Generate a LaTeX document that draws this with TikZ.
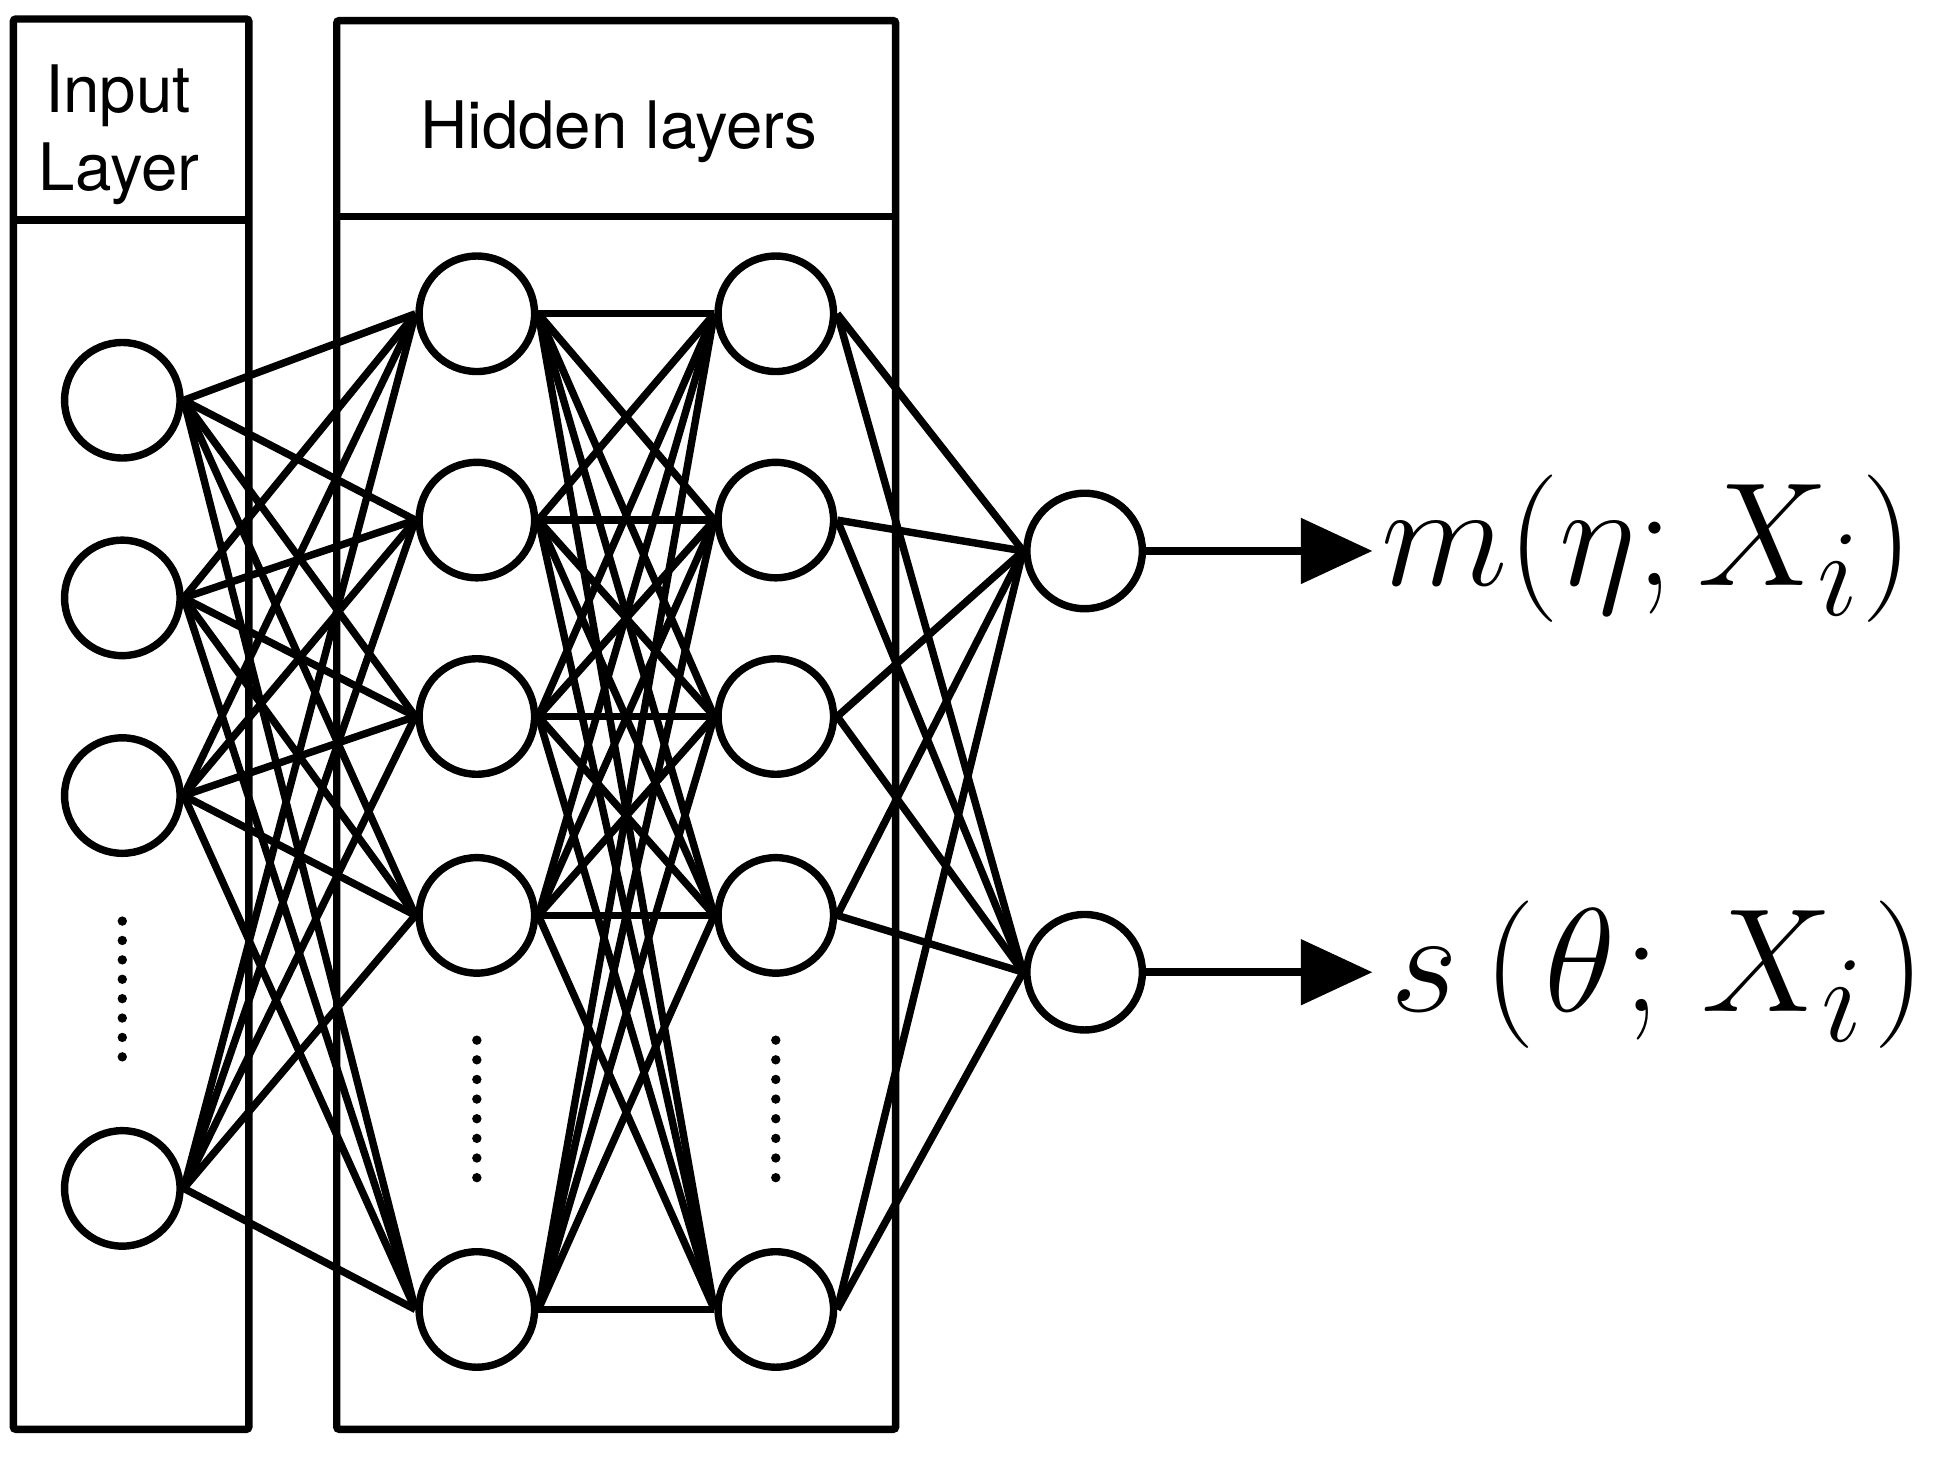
\documentclass[tikz,border=0pt]{standalone}
\usepackage{fontspec}
\newfontfamily\hdrfont{TeX Gyre Heros}
\usetikzlibrary{arrows.meta}
\begin{document}
\begin{tikzpicture}[x=1pt,y=-1pt,
  neuron/.style={circle,draw,line width=6pt,fill=white,minimum size=93.5pt,inner sep=0pt},
  layerbox/.style={draw,line width=6pt,rounded corners=2pt},
  divider/.style={line width=6pt},
  conn/.style={line width=6pt},
  outarrow/.style={line width=6.5pt,-{Triangle[length=58pt,width=52pt]}},
  hdr/.style={font=\hdrfont\fontsize{53}{63.5}\selectfont,inner sep=0pt,anchor=base},
  lbl/.style={font=\Huge,scale=4.8,anchor=west,inner sep=0pt}
]
\useasboundingbox (0,0) rectangle (1568,1183);

% layer boxes
\draw[layerbox] (10.8,15.4) rectangle (201.4,1157);
\draw[divider] (10.8,178) -- (201.4,178);
\draw[layerbox] (272.6,16.7) rectangle (725,1157);
\draw[divider] (272.6,175.4) -- (725,175.4);

% headers
\node[hdr] (inA) at (95.5,91) {Input};
\node[hdr] (inB) at (96.5,154) {Layer};
\node[hdr] (hid) at (501,120) {Hidden layers};

% neurons
\foreach \y [count=\i] in {324,484,644,962}
  \node[neuron] (i\i) at (99,\y) {};
\foreach \y [count=\i] in {254,421,580,741,1060} {
  \node[neuron] (a\i) at (386,\y) {};
  \node[neuron] (b\i) at (628,\y) {};
}
\node[neuron] (o1) at (878,446) {};
\node[neuron] (o2) at (878,787) {};

% connections
\foreach \i in {1,...,4}
  \foreach \j in {1,...,5}
    \draw[conn] (i\i.east) -- (a\j.west);
\foreach \i in {1,...,5}
  \foreach \j in {1,...,5}
    \draw[conn] (a\i.east) -- (b\j.west);
\foreach \i in {1,...,5}
  \foreach \j in {1,2}
    \draw[conn] (b\i.east) -- (o\j.west);

% ellipsis dots
\foreach \k in {0,...,7} {
  \fill (99,745.6+15.7*\k) circle (3.8pt);
  \fill (386,842+15.9*\k) circle (3.8pt);
  \fill (628,842+15.9*\k) circle (3.8pt);
}

% outputs
\coordinate (t1) at (1111,446);
\coordinate (t2) at (1111,787);
\draw[outarrow] (o1.east) -- (t1);
\draw[outarrow] (o2.east) -- (t2);
\node[lbl] (lm) at (1117,444) {$m(\eta;X_i)$};
\node[lbl] (ls) at (1125,789) {$s\mkern3mu(\mkern1mu\theta\mkern1mu;\mkern2mu X_i\mkern1mu)$};
\end{tikzpicture}
\end{document}
